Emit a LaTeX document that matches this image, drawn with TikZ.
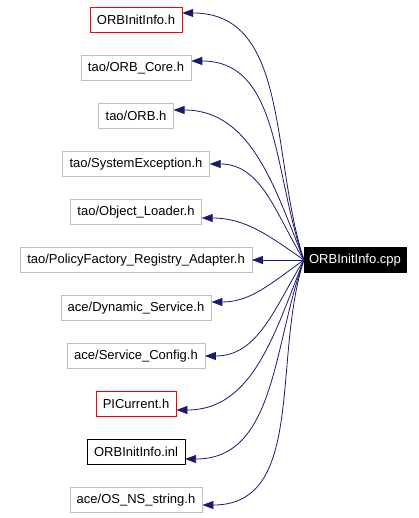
\documentclass[tikz,border=0pt]{standalone}
\usepackage{fontspec}
\setmainfont{Liberation Sans}
\usetikzlibrary{arrows.meta, positioning}

\definecolor{edgeblue}{RGB}{25,25,112}
\definecolor{boxgray}{RGB}{191,191,191}

\begin{document}
\begin{tikzpicture}[x=1pt, y=1pt, node distance=48pt,
    file/.style={rectangle, draw=boxgray, fill=white, minimum height=25pt, inner xsep=7pt, font=\fontsize{13}{15}\selectfont},
    missing/.style={file, draw=red},
    local/.style={file, draw=black},
    source/.style={file, draw=black, fill=black, text=white, inner xsep=5pt},
    dep/.style={draw=edgeblue, line width=0.8pt, -{Triangle[length=11pt, width=8pt]}}]
    \useasboundingbox (0,0) rectangle (419,-518);

    % included headers, top to bottom
    \node [missing] (info) at (136,-20) {ORBInitInfo.h};
    \node [file, below of=info] (core) {tao/ORB\_Core.h};
    \node [file, below of=core] (orb) {tao/ORB.h};
    \node [file, below of=orb] (sysexc) {tao/SystemException.h};
    \node [file, below of=sysexc] (loader) {tao/Object\_Loader.h};
    \node [file, below of=loader] (adapter) {tao/PolicyFactory\_Registry\_Adapter.h};
    \node [file, below of=adapter] (dynsvc) {ace/Dynamic\_Service.h};
    \node [file, below of=dynsvc] (svccfg) {ace/Service\_Config.h};
    \node [missing, below of=svccfg] (picur) {PICurrent.h};
    \node [local, below of=picur] (inl) {ORBInitInfo.inl};
    \node [file, below of=inl] (osstr) {ace/OS\_NS\_string.h};

    \node [source, right of=adapter, node distance=219pt] (cpp) {ORBInitInfo.cpp};

    \draw [dep] (cpp.west) to[out=108, in=0] ([yshift=7pt]info.east);
    \draw [dep] (cpp.west) to[out=110, in=0] ([yshift=7pt]core.east);
    \draw [dep] (cpp.west) to[out=112, in=0] ([yshift=6pt]orb.east);
    \draw [dep] (cpp.west) to[out=122, in=0] (sysexc.east);
    \draw [dep] (cpp.west) to[out=145, in=0] ([yshift=-6pt]loader.east);
    \draw [dep] (cpp.west) -- (adapter.east);
    \draw [dep] (cpp.west) to[out=-145, in=0] ([yshift=6pt]dynsvc.east);
    \draw [dep] (cpp.west) to[out=-122, in=0] (svccfg.east);
    \draw [dep] (cpp.west) to[out=-112, in=0] ([yshift=-6pt]picur.east);
    \draw [dep] (cpp.west) to[out=-110, in=0] ([yshift=-7pt]inl.east);
    \draw [dep] (cpp.west) to[out=-108, in=0] ([yshift=-5pt]osstr.east);
\end{tikzpicture}
\end{document}
